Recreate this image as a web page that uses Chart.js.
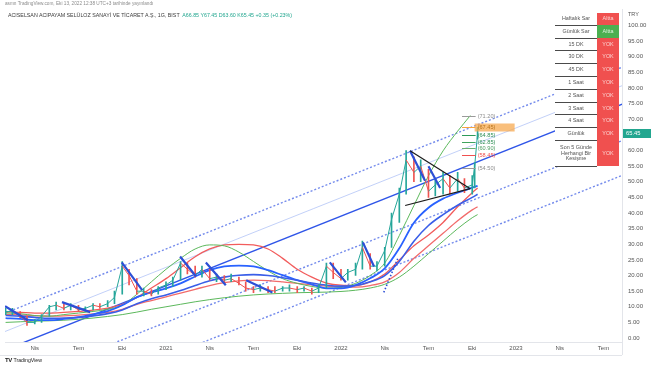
<!DOCTYPE html>
<html lang="tr">
<head>
<meta charset="utf-8">
<title>ACSEL 1G</title>
<script src="https://cdn.jsdelivr.net/npm/chart.js@4.4.1/dist/chart.umd.min.js"></script>
<style>
  html, body { margin:0; padding:0; background:#fff; }
  #wrap { position:relative; width:654px; height:366px; overflow:hidden; font-family:'Liberation Sans', Arial, sans-serif; }
  #chart { position:absolute; left:0; top:0; }
  .pub { position:absolute; left:5px; top:1px; font-size:4.7px; color:#8c8c8c; white-space:nowrap; }
  .sym { position:absolute; left:8px; top:12px; font-size:5.3px; color:#3a3a3a; white-space:nowrap; }
  .sym span { color:#22a68f; }
  .cur { position:absolute; left:628px; top:11px; font-size:5.5px; color:#555; }
  .logo { position:absolute; left:5px; top:357px; font-size:5.2px; color:#222; white-space:nowrap; }
  .logo b { font-size:6px; letter-spacing:-0.3px; }
  #sar { position:absolute; left:555px; top:13px; border-collapse:collapse; font-size:5.4px; line-height:1.1; }
  #sar td { padding:0; text-align:center; }
  #sar td.k { width:42px; height:11.8px; color:#555; background:#fff; border-bottom:1px solid #4a4a4a; }
  #sar td.v { width:22px; background:#f0504f; color:#fcd4d3; }
  #sar td.v.up { background:#4caf50; color:#e1f4e1; }
</style>
</head>
<body>
<div id="wrap">
  <canvas id="chart" width="654" height="366"></canvas>
  <div class="pub">asmn TradingView.com, Eki 13, 2022 12:38 UTC+3 tarihinde yayınlandı</div>
  <div class="sym">ACISELSAN ACIPAYAM SELÜLOZ SANAYİ VE TİCARET A.Ş., 1G, BIST&nbsp; <span>A66.85 Y67.45 D63.60 K65.45 +0.35 (+0.23%)</span></div>
  <div class="cur">TRY</div>
  <table id="sar"></table>
  <div class="logo"><b>TV</b> TradingView</div>
</div>
<script>
// ---- data (months since 2020-01) ----
const priceDates = [
  '2020-02-01','2020-02-15','2020-03-01','2020-03-15','2020-04-01','2020-04-15','2020-05-01','2020-05-15',
  '2020-06-01','2020-06-15','2020-07-01','2020-07-15','2020-08-01','2020-08-15','2020-09-01','2020-09-15',
  '2020-10-01','2020-10-15','2020-11-01','2020-11-15','2020-12-01','2020-12-15',
  '2021-01-01','2021-01-15','2021-02-01','2021-02-15','2021-03-01','2021-03-15','2021-04-01','2021-04-15',
  '2021-05-01','2021-05-15','2021-06-01','2021-06-15','2021-07-01','2021-07-15','2021-08-01','2021-08-15',
  '2021-09-01','2021-09-15','2021-10-01','2021-10-15','2021-11-01','2021-11-15','2021-12-01','2021-12-15',
  '2022-01-01','2022-01-15','2022-02-01','2022-02-15','2022-03-01','2022-03-15','2022-04-01','2022-04-15',
  '2022-05-01','2022-05-15','2022-06-01','2022-06-15','2022-07-01','2022-07-15','2022-08-01','2022-08-15',
  '2022-09-01','2022-09-15','2022-10-01','2022-10-06','2022-10-12'
];
const closes = [
  8.5,8.5,7,5,5,7,10,10.5,9.5,10.5,9,9.5,10.5,10,11,13,23,20,15,15,14,16,
  17,18.5,24,22,20,22,19,19.5,18.5,19,17.5,16,15.5,16,15.5,15,16,16,15.5,16,15,16,23,21,
  19,21,22,29,23,23,28,38,46,57,53,55,47,49,51,48,51,48,49,55,65.45
];
const highs = [
  9.5,9.5,8.5,7,6,7.5,10.5,11.5,11,11,10.5,10,11,11,12,15,24.5,22,19,16,15.5,16.5,
  18,19.5,24.5,24,23,23,22,20.5,20,20.5,19.5,18,16.5,17,16.5,16.5,16.5,17,16.5,16.5,16,17,24,24,
  22,22,24,31,27,24.5,29,40,48,60,58,57,54,51,53,52,53,51,52,56,67.45
];
const lows = [
  7.5,7.5,6.5,4,4.5,5,7,9,9,9,8.5,8.5,9,9.5,10,11,14,17,14,13.5,13.5,14,
  15.5,16.5,18.5,20.5,19.5,19.5,18.5,18,17.5,18,17,15,14.5,15,14.5,14.5,15,15,14.5,15,14,14.5,16,19,
  18.5,18.5,20,22,22,21.5,23,29,37,46,50,50,45,45.5,46,46,47,46.5,46,48,63.6
];

const maDates = [
  '2020-02','2020-03','2020-04','2020-05','2020-06','2020-07','2020-08','2020-09','2020-10','2020-11','2020-12',
  '2021-01','2021-02','2021-03','2021-04','2021-05','2021-06','2021-07','2021-08','2021-09','2021-10','2021-11','2021-12',
  '2022-01','2022-02','2022-03','2022-04','2022-05','2022-06','2022-07','2022-08','2022-09','2022-10','2022-10-12'
];
const blueFast  = [6.4,6.1,5.7,5.7,6.1,6.7,7.6,8.6,10.5,13.1,14.6,15.9,17.5,19.7,21.7,22.9,23.2,22.9,21.7,20.1,18.5,17.2,15.9,15.9,16.9,19.1,22.3,28.7,36.9,41.7,44.6,46.5,48.1,48.7];
const blueSlow  = [7.2,7.0,6.6,6.3,6.4,6.6,7.1,7.8,9.0,11.0,12.6,13.8,15.2,16.8,18.3,19.5,20.1,20.3,20.0,19.3,18.5,17.6,16.9,16.6,16.8,18.0,20.0,24.5,31.0,36.0,39.5,42.5,45.0,46.0];
const redUpper  = [8.3,8.2,8.0,8.0,8.2,8.5,8.9,9.6,10.8,13.0,16.0,19.0,22.5,26.0,28.5,29.8,30.0,29.8,28.5,25.5,22.0,19.5,17.6,16.9,16.8,18.0,20.5,25.0,29.5,33.0,37.0,42.0,46.5,48.0];
const redLower  = [7.5,7.4,7.2,7.0,7.1,7.3,7.7,8.2,9.2,10.8,12.0,13.2,14.4,15.6,16.8,17.7,18.3,18.5,18.4,18.0,17.5,17.0,16.6,16.4,16.3,16.8,18.0,21.0,25.5,29.5,33.5,37.5,41.0,42.0];
const greenLow  = [5.0,5.2,5.4,5.5,5.7,6.0,6.4,6.9,7.5,8.3,9.2,10.0,10.8,11.6,12.3,12.9,13.4,13.8,14.1,14.3,14.5,14.6,14.7,14.9,15.3,16.0,17.2,19.5,23.0,27.0,31.0,35.0,38.5,39.5];
const greenUpDates = maDates.slice(0, 32).concat(['2022-09-27']);
const greenUp   = [8.0,7.8,7.2,7.0,7.5,8.0,8.5,9.2,10.5,14.0,18.0,22.0,25.5,28.5,29.8,29.5,27.5,24.5,21.5,19.0,17.5,16.5,16.0,16.2,17.5,20.0,24.0,32.8,42.4,51.9,59.9,66.2,71.2];

// parabolic SAR pieces: [from, value, to, value]
const sarDown = [
  ['2020-01-30',10.2,'2020-03-17',5.7],
  ['2020-05-27',11.5,'2020-07-25',8.3],
  ['2020-09-30',24.2,'2020-11-12',15.3],
  ['2021-01-30',26.1,'2021-03-03',19.7],
  ['2021-03-23',24.2,'2021-05-04',16.9],
  ['2021-06-16',18.5,'2021-08-10',14.6],
  ['2021-12-08',24.2,'2022-01-11',17.8],
  ['2022-02-16',30.6,'2022-03-09',22.9],
  ['2022-05-23',59.9,'2022-06-24',50.3],
  ['2022-07-01',55.0,'2022-07-25',48.0]
];
const sarUp = [
  ['2022-03-29',14.6,'2022-04-28',25.5]
];

// regression channel: value at start / end date
const channelDates = ['2020-01-01','2023-09-01'];
const chanTop    = [6.2, 88.0];
const chanInner  = [0.3, 82.1];
const chanMid    = [-5.6, 76.2];
const chanLow    = [-17.3, 64.5];
const chanBottom = [-28.4, 53.4];

// triangle drawing
const triUpper = [['2022-05-23',59.9],['2022-09-27',47.8]];
const triLower = [['2022-05-13',42.4],['2022-09-27',47.8]];

// fibonacci levels
const fibFrom = '2022-09-10', fibTo = '2022-10-08';
const fibLevels = [71.20, 67.45, 64.85, 62.85, 60.90, 58.45, 54.50];
const fibHighlight = 1;

const lastClose = 65.45;

const tickMonths = [3,6,9,12,15,18,21,24,27,30,33,36,39,42];
const tickLabels = ['Nis','Tem','Eki','2021','Nis','Tem','Eki','2022','Nis','Tem','Eki','2023','Nis','Tem'];
const yTicks = [];
for (let v = 0; v <= 100; v += 5) yTicks.push(v);

const sarLabels = ['Haftalık Sar','Günlük Sar','15 DK','30 DK','45 DK','1 Saat','2 Saat','3 Saat','4 Saat','Günlük','Son 5 Günde Herhangi Bir Kesişme'];
const sarValues = ['Altta','Altta','YOK','YOK','YOK','YOK','YOK','YOK','YOK','YOK','YOK'];
const sarGreenRows = [1];

// ---- helpers ----
function toM(d) {
  const p = d.split('-').map(Number);
  return (p[0] - 2020) * 12 + (p[1] - 1) + ((p[2] || 1) - 1) / 30;
}
const pts = (dates, vals) => dates.map((d, i) => ({ x: toM(d), y: vals[i] }));
const pairs = list => list.map(p => ({ x: toM(p[0]), y: p[1] }));
function pieces(list) {
  const out = [];
  list.forEach(s => {
    out.push({ x: toM(s[0]), y: s[1] }, { x: toM(s[2]), y: s[3] }, { x: toM(s[2]) + 0.01, y: null });
  });
  return out;
}
function line(data, color, width, extra) {
  return Object.assign({ type: 'line', data, borderColor: color, borderWidth: width,
    pointRadius: 0, fill: false, tension: 0 }, extra || {});
}

// table
const tbl = document.getElementById('sar');
sarLabels.forEach((lab, i) => {
  const tr = document.createElement('tr');
  const k = document.createElement('td');
  k.className = 'k';
  k.textContent = lab;
  if (i === sarLabels.length - 1) k.style.height = '25px';
  const v = document.createElement('td');
  v.className = 'v' + (sarGreenRows.includes(i) ? ' up' : '');
  v.textContent = sarValues[i];
  tr.appendChild(k); tr.appendChild(v);
  tbl.appendChild(tr);
});

const TEAL = '#26a69a', RED = '#ef5350';
const fibColors = ['#9a9a9a', '#f5a43c', '#2e9a5a', '#3fa35f', '#6aae72', '#f0504f', '#9a9a9a'];
const fibText   = ['#8d8d8d', '#b8731a', '#2e8f55', '#2e8f55', '#4e9e63', '#f0504f', '#8d8d8d'];

const overlay = {
  id: 'overlay',
  afterDatasetsDraw(chart) {
    const { ctx, scales: { x, y } } = chart;
    ctx.save();
    const x0 = x.getPixelForValue(toM(fibFrom)), x1 = x.getPixelForValue(toM(fibTo));
    ctx.font = "5.6px 'Liberation Sans', Arial";
    ctx.textBaseline = 'middle';
    fibLevels.forEach((v, i) => {
      const py = Math.round(y.getPixelForValue(v)) + 0.5;
      ctx.strokeStyle = fibColors[i];
      ctx.lineWidth = 1;
      ctx.beginPath(); ctx.moveTo(x0, py); ctx.lineTo(x1, py); ctx.stroke();
      if (i === fibHighlight) {
        ctx.fillStyle = 'rgba(247,170,80,0.75)';
        ctx.fillRect(x1 - 1, py - 4, 40, 8);
      }
      ctx.fillStyle = fibText[i];
      ctx.fillText('(' + v.toFixed(2) + ')', x1 + 2, py);
    });
    ctx.restore();
  },
  afterDraw(chart) {
    const { ctx, scales: { y }, chartArea: a } = chart;
    ctx.save();
    // time axis bottom rule
    ctx.fillStyle = '#e3e5ea';
    ctx.fillRect(0, 355, a.right, 1);
    ctx.fillRect(a.right, a.bottom, 1, 13);
    // last price label
    const py = y.getPixelForValue(lastClose);
    ctx.fillStyle = '#22a68f';
    ctx.fillRect(a.right + 1, py - 4.5, 28, 9);
    ctx.fillStyle = '#fff';
    ctx.font = "5.8px 'Liberation Sans', Arial";
    ctx.textBaseline = 'middle';
    ctx.fillText(lastClose.toFixed(2), a.right + 4, py + 0.3);
    ctx.restore();
  }
};

Chart.defaults.font.family = "'Liberation Sans', Arial, sans-serif";

const chanStyle = { borderDash: [2, 2] };
new Chart(document.getElementById('chart'), {
  type: 'line',
  data: {
    datasets: [
      line(pts(channelDates, chanTop), 'rgba(70,100,230,0.75)', 1.4, Object.assign({ order: 20 }, chanStyle)),
      line(pts(channelDates, chanInner), 'rgba(120,150,240,0.45)', 1, { order: 20 }),
      line(pts(channelDates, chanMid), '#2f55e8', 1.4, { order: 20 }),
      line(pts(channelDates, chanLow), 'rgba(70,100,230,0.75)', 1.4, Object.assign({ order: 20 }, chanStyle)),
      line(pts(channelDates, chanBottom), 'rgba(70,100,230,0.75)', 1.4, Object.assign({ order: 20 }, chanStyle)),

      line(pts(maDates, greenLow), '#5cb85c', 1, { order: 10, cubicInterpolationMode: 'monotone' }),
      line(pts(greenUpDates, greenUp), '#5cb85c', 1, { order: 10, cubicInterpolationMode: 'monotone' }),
      line(pts(maDates, redUpper), '#f25c5c', 1.3, { order: 10, cubicInterpolationMode: 'monotone' }),
      line(pts(maDates, redLower), '#f26b6b', 1.3, { order: 10, cubicInterpolationMode: 'monotone' }),
      line(pts(maDates, blueSlow), '#3a5ee8', 1.6, { order: 9, cubicInterpolationMode: 'monotone' }),
      line(pts(maDates, blueFast), '#2962ff', 1.8, { order: 9, cubicInterpolationMode: 'monotone' }),

      {
        type: 'bar', order: 6,
        data: priceDates.map((d, i) => ({ x: toM(d), y: [lows[i], highs[i]] })),
        backgroundColor: closes.map((c, i) => (i === 0 || c >= closes[i - 1]) ? TEAL : RED),
        barThickness: 1, grouped: false
      },
      line(pts(priceDates, closes), TEAL, 1, {
        order: 5,
        segment: { borderColor: c => c.p1.parsed.y >= c.p0.parsed.y ? TEAL : RED }
      }),

      line(pieces(sarDown), '#2d4fd6', 2.2, { order: 3, spanGaps: false }),
      line(pieces(sarUp), '#2d4fd6', 1.6, { order: 3, spanGaps: false, borderDash: [1.5, 2] }),
      line(pairs(triUpper), '#1b1b1b', 1.2, { order: 1 }),
      line(pairs(triLower), '#1b1b1b', 1.2, { order: 1 })
    ]
  },
  options: {
    responsive: false,
    animation: false,
    devicePixelRatio: 1,
    layout: { padding: { left: 5, top: 8, right: 0, bottom: 11 } },
    plugins: { legend: { display: false }, tooltip: { enabled: false } },
    scales: {
      x: {
        type: 'linear', min: 0.96, max: 43.27, offset: false,
        grid: { display: false, offset: false, drawTicks: false },
        border: { display: true, color: '#e3e5ea' },
        afterBuildTicks: s => { s.ticks = tickMonths.map(v => ({ value: v })); },
        afterFit: s => { s.height = 13; },
        ticks: { autoSkip: false, maxRotation: 0, padding: 3, color: '#555', font: { size: 6 },
          callback: (v, i) => tickLabels[i] }
      },
      y: {
        position: 'right', min: -1.27, max: 105.1,
        grid: { display: false, drawTicks: false },
        border: { display: true, color: '#e3e5ea' },
        afterBuildTicks: s => { s.ticks = yTicks.map(v => ({ value: v })); },
        afterFit: s => { s.width = 32; },
        ticks: { padding: 6, color: '#555', font: { size: 6 }, callback: v => v.toFixed(2) }
      }
    }
  },
  plugins: [overlay]
});
</script>
</body>
</html>
